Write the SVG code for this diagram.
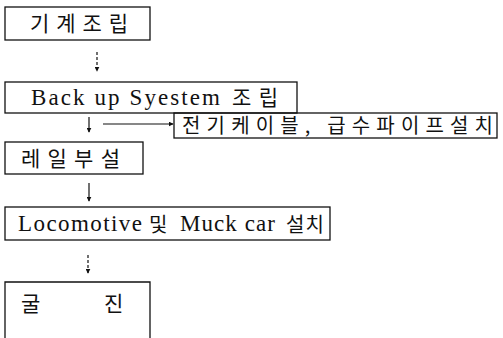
<svg xmlns="http://www.w3.org/2000/svg" width="503" height="338" viewBox="0 0 503 338">
<style>
.box{fill:none;stroke:#111;stroke-width:1.3}
.kr{font-family:"Noto Sans CJK KR","Noto Sans",sans-serif;font-size:21px;fill:#111}
.lat{font-family:"Liberation Serif","Times New Roman",serif;font-size:23px;fill:#111}
.ln{stroke:#111;stroke-width:1.2;fill:none}
.dash{stroke-dasharray:3 2}
</style>
<defs>
<marker id="ah" viewBox="0 0 8 8" refX="7" refY="4" markerWidth="5" markerHeight="5" orient="auto" markerUnits="userSpaceOnUse">
<path d="M0,0 L8,4 L0,8 z" fill="#111"/>
</marker>
</defs>
<rect width="503" height="338" fill="#fff"/>
<g id="n1">
<rect class="box" x="5" y="7" width="145" height="33"/>
<text class="kr" x="30" y="31" textLength="98" lengthAdjust="spacing">기계조립</text>
</g>
<g id="n2">
<rect class="box" x="5" y="82" width="292" height="31"/>
<text class="lat" x="31" y="105" textLength="189" lengthAdjust="spacing">Back up Syestem</text>
<text class="kr" x="232" y="105" textLength="46" lengthAdjust="spacing">조립</text>
</g>
<g id="n3">
<rect class="box" x="174" y="113" width="323" height="25"/>
<text class="kr" x="182" y="133" textLength="311" lengthAdjust="spacing" style="font-size:20px">전기케이블, 급수파이프설치</text>
</g>
<g id="n4">
<rect class="box" x="5" y="142" width="138" height="32"/>
<text class="kr" x="21" y="166" textLength="99" lengthAdjust="spacing">레일부설</text>
</g>
<g id="n5">
<rect class="box" x="5" y="207" width="325" height="33"/>
<text class="lat" x="18" y="231" textLength="124" lengthAdjust="spacing">Locomotive</text>
<text class="kr" x="149" y="232" style="font-size:20px">및</text>
<text class="lat" x="180" y="231" textLength="95" lengthAdjust="spacing">Muck car</text>
<text class="kr" x="286" y="232" textLength="38" lengthAdjust="spacing" style="font-size:20px">설치</text>
</g>
<g id="n6">
<path class="box" d="M5,338 V282 H150 V338"/>
<text class="kr" x="21" y="311">굴</text>
<text class="kr" x="104" y="311">진</text>
</g>
<g id="connectors">
<line class="ln dash" x1="97" y1="52" x2="97" y2="71" marker-end="url(#ah)"/>
<line class="ln" x1="89" y1="117" x2="89" y2="132" marker-end="url(#ah)"/>
<line class="ln" x1="103" y1="124" x2="173" y2="124" marker-end="url(#ah)"/>
<line class="ln" x1="89" y1="183" x2="89" y2="201" marker-end="url(#ah)"/>
<line class="ln dash" x1="88" y1="255" x2="88" y2="273" marker-end="url(#ah)"/>
</g>
</svg>
